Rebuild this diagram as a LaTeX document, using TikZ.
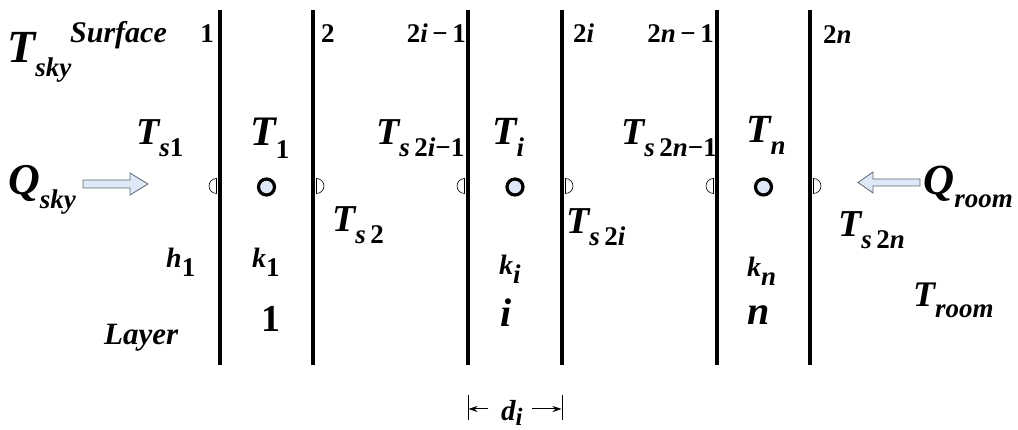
\documentclass[tikz,border=0pt]{standalone}
\usepackage{fontspec}
\setmainfont{Liberation Serif}
\usepackage{tikz}
\usetikzlibrary{arrows.meta}
\definecolor{ink}{RGB}{0,0,0}
\definecolor{pale}{RGB}{222,232,246}
\definecolor{edge}{RGB}{95,105,115}
\newcommand{\up}[1]{\textup{#1}}
\newcommand{\lo}[1]{\raisebox{-0.3em}{\fontsize{27}{30}\selectfont#1}}
\newcommand{\fs}[1]{\fontsize{#1}{#1}\selectfont\bfseries\itshape}
\tikzset{
  lab/.style={anchor=base west,inner sep=0,text=ink},
  tag/.style={lab,font=\fs{27}},
  var/.style={lab,font=\fs{40}},
  coef/.style={lab,font=\fs{28}},
  wall/.style={ink,line width=3.5pt},
  half/.style={draw=black,fill=white,line width=0.6pt},
  probe/.style={circle,draw=black,fill=pale,line width=3.2pt,minimum size=16pt,inner sep=0},
  flow/.style={draw=edge,fill=pale,line width=0.8pt,line join=miter},
  dim/.style={line width=1pt,-{Stealth[length=9pt,width=6pt]}}
}
\begin{document}
\begin{tikzpicture}[x=1pt,y=1pt]
    \useasboundingbox (0,0) rectangle (1018,430);
    \foreach \x in {220,313,468,562,717,810}{
      \draw[wall] (\x,420) -- (\x,65);}
    \foreach \x in {220,468,717}{
      \draw[half] (\x-3.5,251.5) arc[start angle=90,end angle=270,radius=7.5] -- cycle;}
    \foreach \x in {313,562,810}{
      \draw[half] (\x+3.5,236.5) arc[start angle=-90,end angle=90,radius=7.5] -- cycle;}
    \foreach \x/\n in {266.5/1,515/2,763.5/3}{
      \node[probe] (c\n) at (\x,243) {};}
    \draw[flow] (83,242) -- (130,242) -- (130,235) -- (148,246) -- (130,257)
      -- (130,250) -- (83,250) -- cycle;
    \draw[flow] (920,244) -- (873,244) -- (873,237) -- (858,247.5) -- (873,258)
      -- (873,251) -- (920,251) -- cycle;
    \node[tag,font=\fs{30}] (surf) at (70,387) {Surface};
    \node[tag,anchor=base east] (n1) at (214,387) {\up{1}};
    \node[tag] (n2) at (321,387) {\up{2}};
    \node[tag,anchor=base east] (n3) at (466,387) {\up{2}i\,\up{−}\,\up{1}};
    \node[tag] (n4) at (573,387) {\up{2}i};
    \node[tag,anchor=base east] (n5) at (714,387) {\up{2}n\,\up{−}\,\up{1}};
    \node[tag] (n6) at (823,386) {\up{2}n};
    \node[var,font=\fs{46}] (tsky) at (7,367) {T\lo{sky}};
    \node[var,font=\fs{38}] (ts1) at (136,285) {T\lo{s\up{1}}};
    \node[var,font=\fs{44}] (qsky) at (8,235) {Q\lo{sky}};
    \node[var,font=\fs{42}] (t1) at (250,284) {T\lo{\up{1}}};
    \node[var,font=\fs{38}] (ts3) at (376,285) {T\lo{s\,\up{2}i\up{−1}}};
    \node[var] (ti) at (492,285) {T\lo{i}};
    \node[var,font=\fs{38}] (ts5) at (621,285) {T\lo{s\,\up{2}n\up{−1}}};
    \node[var] (tn) at (746,287) {T\lo{n}};
    \node[var,font=\fs{43}] (qroom) at (923,235) {Q\lo{room}};
    \node[var,font=\fs{38}] (ts2) at (332,198) {T\lo{s\,\up{2}}};
    \node[var,font=\fs{38}] (ts4) at (566,196) {T\lo{s\,\up{2}i}};
    \node[var,font=\fs{38}] (ts6) at (838,193) {T\lo{s\,\up{2}n}};
    \node[var,font=\fs{36}] (troom) at (913,123) {T\lo{room}};
    \node[coef] (h1) at (166,162) {h\lo{\up{1}}};
    \node[coef] (k1) at (252,162) {k\lo{\up{1}}};
    \node[coef] (ki) at (499,155) {k\lo{i}};
    \node[coef] (kn) at (747,153) {k\lo{n}};
    \node[coef,font=\fs{31}] (layer) at (104,85) {Layer};
    \node[lab,font=\fontsize{38}{38}\selectfont\bfseries] (l1) at (261,98) {1};
    \node[var] (li) at (500,103) {i};
    \node[var] (ln) at (747,105) {n};
    \node[coef,font=\fs{29}] (di) at (501,9) {d\raisebox{-5pt}{\fontsize{25}{27}\selectfont i}};
    \draw[line width=1pt] (468,35) -- (468,10);
    \draw[line width=1pt] (562,35) -- (562,10);
    \coordinate (dl) at (468.5,21);
    \coordinate (dr) at (561.5,21);
    \coordinate (dla) at (488,21);
    \coordinate (dra) at (532,21);
    \draw[dim] (dla) -- (dl);
    \draw[dim] (dra) -- (dr);
  \end{tikzpicture}
\end{document}
